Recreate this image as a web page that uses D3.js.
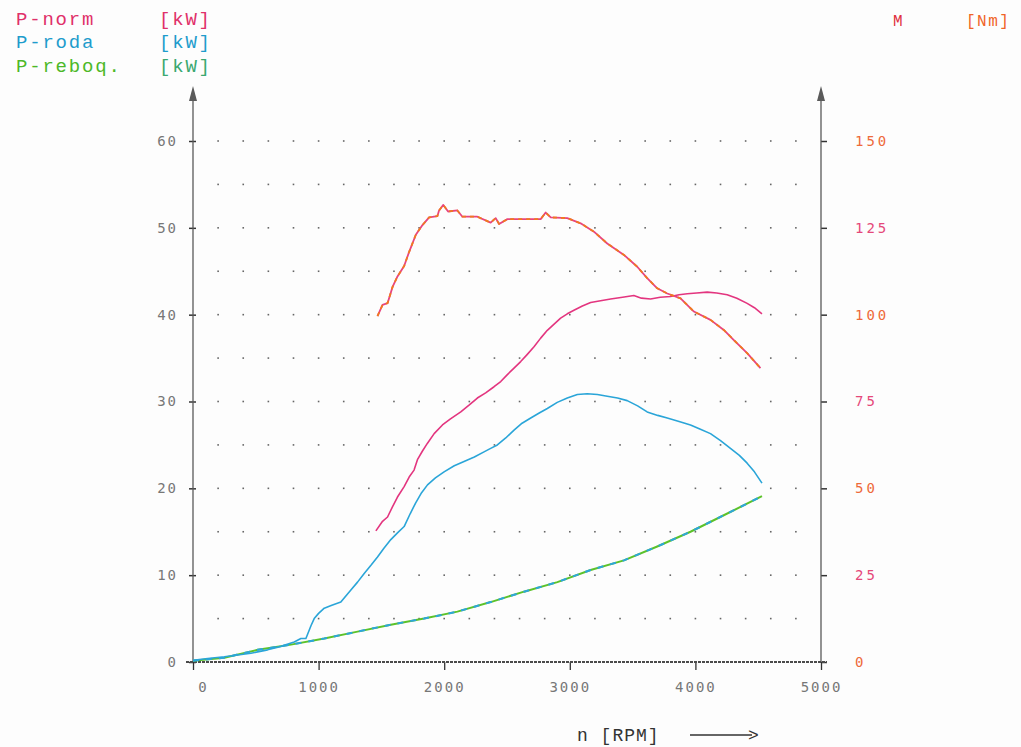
<!DOCTYPE html>
<html>
<head>
<meta charset="utf-8">
<script src="https://cdn.jsdelivr.net/npm/d3@7"></script>
<style>
  body { margin: 0; background: #fdfdfd; }
  svg { display: block; }
  text { font-family: "Liberation Mono", "DejaVu Sans Mono", monospace; }
</style>
</head>
<body>
<div id="chart"></div>
<script>
var rpmNorm = [1456,1509,1549,1589,1628,1681,1721,1760,1787,1827,1867,1920,1986,2050,2132,2200,2264,2330,2397,2450,2503,2560,2609,2660,2715,2768,2821,2875,2927,2980,3033,3100,3166,3245,3325,3420,3510,3570,3643,3720,3802,3870,3935,4010,4094,4170,4253,4330,4412,4470,4530];
var pNorm   = [15.1,16.2,16.7,17.9,19.0,20.2,21.3,22.1,23.3,24.3,25.2,26.3,27.3,28.0,28.8,29.6,30.4,31.0,31.7,32.3,33.1,33.9,34.6,35.4,36.3,37.3,38.2,38.9,39.6,40.1,40.5,41.0,41.4,41.6,41.8,42.0,42.2,41.9,41.8,42.0,42.1,42.3,42.4,42.5,42.6,42.5,42.3,41.9,41.3,40.8,40.1];

var rpmRoda = [0,117,250,356,461,594,700,806,859,899,940,965,1000,1045,1100,1177,1257,1310,1363,1420,1469,1520,1575,1630,1681,1730,1772,1820,1867,1930,1999,2080,2158,2240,2317,2370,2423,2490,2556,2620,2689,2760,2821,2900,2980,3060,3139,3220,3298,3380,3457,3540,3616,3700,3776,3870,3961,4040,4120,4200,4279,4350,4412,4470,4530];
var pRoda   = [0.2,0.4,0.6,0.8,1.0,1.4,1.8,2.3,2.7,2.7,4.2,5.0,5.6,6.2,6.5,6.9,8.3,9.2,10.2,11.2,12.1,13.1,14.1,14.9,15.6,17.1,18.3,19.5,20.4,21.2,21.9,22.6,23.1,23.6,24.2,24.6,25.0,25.8,26.7,27.5,28.1,28.7,29.2,29.9,30.4,30.8,30.9,30.8,30.6,30.4,30.1,29.5,28.8,28.4,28.1,27.7,27.3,26.8,26.3,25.5,24.6,23.8,22.9,21.9,20.6];

var rpmReboq = [0,250,515,780,1045,1310,1575,1840,2105,2370,2635,2901,3166,3431,3696,3961,4226,4530];
var pReboq   = [0.15,0.5,1.4,2.0,2.7,3.5,4.3,5.0,5.8,6.9,8.1,9.2,10.6,11.7,13.3,15.0,16.9,19.1];

var rpmTorque = [1469,1509,1549,1589,1628,1681,1721,1774,1827,1880,1946,1959,1993,2031,2105,2145,2264,2370,2410,2437,2503,2636,2768,2808,2848,2980,3086,3192,3298,3431,3537,3616,3696,3776,3882,3988,4120,4226,4306,4412,4518];
var mTorque   = [99.6,102.8,103.3,108,111,114,118.1,123,125.8,128,128.4,130,131.6,129.7,130,128.2,128.2,126.5,127.8,126.1,127.5,127.5,127.5,129.4,128,127.8,126.3,123.9,120.5,117.2,113.8,110.5,107.6,106.1,104.7,100.9,98.5,95.6,92.7,88.9,84.6];

var xTicks = [0,1000,2000,3000,4000,5000];
var kwTicks = [0,10,20,30,40,50,60];
var nmTicks = [0,25,50,75,100,125,150];

var width = 1021, height = 747;

var svg = d3.select("#chart").append("svg")
    .attr("width", width)
    .attr("height", height);

var x = d3.scaleLinear().domain([0, 5000]).range([193, 821]);
var yKw = d3.scaleLinear().domain([0, 60]).range([662, 141]);
var yNm = d3.scaleLinear().domain([0, 150]).range([662, 141]);

var axisColor = "#5a5a5a";

// dot grid
var dotRpm = d3.range(200, 4801, 200);
var dotKw = d3.range(5, 61, 5);
var dots = svg.append("g");
dotKw.forEach(function(k){
    dotRpm.forEach(function(r){
        dots.append("rect")
            .attr("x", x(r) - 0.8)
            .attr("y", yKw(k) - 0.8)
            .attr("width", 1.6)
            .attr("height", 1.6)
            .attr("fill", "#666");
    });
});

// left axis
var left = svg.append("g").attr("transform", "translate(" + x(0) + ",0)");
left.call(d3.axisLeft(yKw).tickValues(kwTicks).tickSize(0).tickPadding(15).tickFormat(d3.format("d")));
left.select(".domain").remove();
left.append("line")
    .attr("y1", yKw(0)).attr("y2", 96)
    .attr("stroke", axisColor).attr("stroke-width", 1.3);
left.append("path")
    .attr("d", "M0,86 L-4,101 L4,101 Z")
    .attr("fill", axisColor);
left.selectAll(".tick").append("line")
    .attr("x1", -4).attr("x2", 3)
    .attr("stroke", "#333").attr("stroke-width", 1.5);
left.selectAll(".tick text")
    .attr("fill", "#777")
    .style("font-family", "DejaVu Sans Mono")
    .style("font-size", "14px")
    .style("letter-spacing", "2px");

// right axis
var right = svg.append("g").attr("transform", "translate(" + x(5000) + ",0)");
right.call(d3.axisRight(yNm).tickValues(nmTicks).tickSize(0).tickPadding(34).tickFormat(d3.format("d")));
right.select(".domain").remove();
right.append("line")
    .attr("y1", yNm(0)).attr("y2", 96)
    .attr("stroke", axisColor).attr("stroke-width", 1.3);
right.append("path")
    .attr("d", "M0,86 L-4,101 L4,101 Z")
    .attr("fill", axisColor);
right.selectAll(".tick").append("line")
    .attr("x1", 0).attr("x2", 6)
    .attr("stroke", "#333").attr("stroke-width", 1.5);
right.selectAll(".tick text")
    .attr("fill", function(d, i){ return i % 2 ? "#e5487a" : "#ee6a3a"; })
    .style("font-family", "DejaVu Sans Mono")
    .style("font-size", "14px")
    .style("letter-spacing", "3px");

// bottom axis
var bottom = svg.append("g").attr("transform", "translate(0," + yKw(0) + ")");
bottom.call(d3.axisBottom(x).tickValues(xTicks).tickSize(0).tickPadding(20).tickFormat(d3.format("d")));
bottom.select(".domain").remove();
bottom.append("line")
    .attr("x1", 186).attr("x2", 827)
    .attr("stroke", "#4a4a4a").attr("stroke-width", 2.2)
    .attr("stroke-dasharray", "3,1");
bottom.selectAll(".tick").append("line")
    .attr("y1", 0).attr("y2", 8)
    .attr("stroke", "#333").attr("stroke-width", 1.3);
bottom.selectAll(".tick text")
    .attr("fill", "#777")
    .attr("dx", function(d){ return d === 0 ? 10 : 0; })
    .style("font-family", "DejaVu Sans Mono")
    .style("font-size", "14px")
    .style("letter-spacing", "2px");

// curves
function drawCurve(rpms, vals, yScale, color, widthPx, dash){
    var pts = rpms.map(function(r, i){ return [r, vals[i]]; });
    var line = d3.line()
        .x(function(d){ return x(d[0]); })
        .y(function(d){ return yScale(d[1]); });
    var p = svg.append("path")
        .datum(pts)
        .attr("d", line)
        .attr("fill", "none")
        .attr("stroke", color)
        .attr("stroke-width", widthPx)
        .attr("stroke-linejoin", "round");
    if (dash) p.attr("stroke-dasharray", dash);
    return p;
}

drawCurve(rpmReboq, pReboq, yKw, "#5cc22a", 2);
drawCurve(rpmReboq, pReboq, yKw, "#2ea6dc", 2, "6,7");
drawCurve(rpmRoda, pRoda, yKw, "#2aa5d8", 1.6);
drawCurve(rpmNorm, pNorm, yKw, "#e3357f", 1.6);
drawCurve(rpmTorque, mTorque, yNm, "#e8457f", 1.8);
drawCurve(rpmTorque, mTorque, yNm, "#f07a1e", 1.8, "4,4");

// legend
var legend = [
    {name: "P-norm", color: "#e0306a", unit: "#e0306a", y: 25},
    {name: "P-roda", color: "#1e9ccc", unit: "#1e9ccc", y: 48},
    {name: "P-reboq.", color: "#4cb828", unit: "#3aa870", y: 72}
];
legend.forEach(function(l){
    svg.append("text")
        .attr("x", 16).attr("y", l.y)
        .attr("fill", l.color)
        .style("font-size", "19px")
        .style("letter-spacing", "1.8px")
        .text(l.name);
    svg.append("text")
        .attr("x", 159).attr("y", l.y)
        .attr("fill", l.unit)
        .style("font-size", "19px")
        .style("letter-spacing", "1.8px")
        .text("[kW]");
});

svg.append("text")
    .attr("x", 893).attr("y", 26)
    .attr("fill", "#e03040")
    .style("font-size", "16px")
    .text("M");
svg.append("text")
    .attr("x", 966).attr("y", 26)
    .attr("fill", "#f06428")
    .style("font-size", "16px")
    .style("letter-spacing", "1.5px")
    .text("[Nm]");

// x title
svg.append("text")
    .attr("x", 577).attr("y", 741)
    .attr("fill", "#333")
    .style("font-size", "18px")
    .style("letter-spacing", "1px")
    .text("n [RPM]");
svg.append("line")
    .attr("x1", 690).attr("x2", 752)
    .attr("y1", 735).attr("y2", 735)
    .attr("stroke", "#333").attr("stroke-width", 1.3);
svg.append("text")
    .attr("x", 748).attr("y", 741)
    .attr("fill", "#333")
    .style("font-size", "18px")
    .text(">");
</script>
</body>
</html>
